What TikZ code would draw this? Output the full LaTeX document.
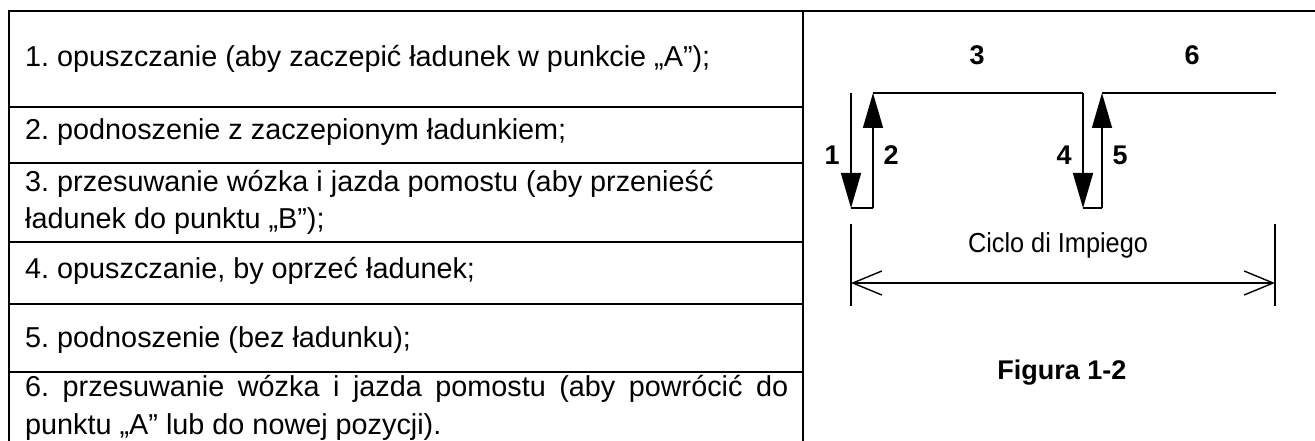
\documentclass[tikz,border=0pt]{standalone}
\usepackage{fontspec}
\setmainfont{Liberation Sans}
\newfontfamily\narrowfont[FakeStretch=0.92]{Liberation Sans}
\usetikzlibrary{arrows.meta}
\frenchspacing
\tikzset{
  grid/.style={line width=2pt, line cap=rect},
  rowtext/.style={anchor=base west, inner sep=0pt, font=\frenchspacing\fontsize{28.8}{34}\selectfont},
  thinpath/.style={line width=1.6pt},
  toppath/.style={line width=2.8pt},
  vecarrow/.style={line width=1.6pt, -{Triangle[length=35pt,width=20pt]}},
  steplabel/.style={inner sep=0pt, font=\bfseries\fontsize{27}{30}\selectfont},
  dimline/.style={line width=1.4pt, {Straight Barb[length=29pt,width=24pt,line width=1.4pt]}-{Straight Barb[length=29pt,width=24pt,line width=1.4pt]}},
}
\begin{document}
\begin{tikzpicture}[x=1pt,y=-1pt]
\useasboundingbox (0,0) rectangle (1315,441);
% table grid
\draw[grid] (1315,11) -- (9,11) -- (9,445);
\draw[grid] (803,11) -- (803,445);
\foreach \yy in {107,163,242,304,372} \draw[grid] (9,\yy) -- (803,\yy);
% rows
\node[rowtext] (r1) at (25,67) {1. opuszczanie (aby zaczepić ładunek w punkcie „A”);};
\node[rowtext] (r2) at (25,140) {2. podnoszenie z zaczepionym ładunkiem;};
\node[rowtext] (r3a) at (25,191) {3. przesuwanie wózka i jazda pomostu (aby przenieść};
\node[rowtext] (r3b) at (25,228) {ładunek do punktu „B”);};
\node[rowtext] (r4) at (25,278) {4. opuszczanie, by oprzeć ładunek;};
\node[rowtext] (r5) at (25,347) {5. podnoszenie (bez ładunku);};
\node[rowtext] (r6a) at (25,396) {\makebox[763pt][s]{6. przesuwanie wózka i jazda pomostu (aby powrócić do}};
\node[rowtext] (r6b) at (25,434) {punktu „A” lub do nowej pozycji).};
% figure coordinates
\coordinate (p1t) at (851,93);
\coordinate (p1b) at (851,208);
\coordinate (p2b) at (873,208);
\coordinate (p2t) at (873,93);
\coordinate (p4t) at (1083,93);
\coordinate (p4b) at (1083,208);
\coordinate (p5b) at (1102,208);
\coordinate (p5t) at (1102,93);
\coordinate (p6e) at (1276,93);
\draw[toppath] (p2t) -- (p4t);
\draw[toppath] (p5t) -- (p6e);
\draw[vecarrow] (p1t) -- (p1b);
\draw[thinpath] (p1b) -- (p2b);
\draw[vecarrow] (p2b) -- (p2t);
\draw[vecarrow] (p4t) -- (p4b);
\draw[thinpath] (p4b) -- (p5b);
\draw[vecarrow] (p5b) -- (p5t);
\node[steplabel] (l3) at (977,55) {3};
\node[steplabel] (l6) at (1192,55) {6};
\node[steplabel] (l1) at (832,155) {1};
\node[steplabel] (l2) at (891,155) {2};
\node[steplabel] (l4) at (1064,155) {4};
\node[steplabel] (l5) at (1120,155) {5};
% dimension
\coordinate (d1t) at (851,224);
\coordinate (d1b) at (851,306);
\coordinate (d2t) at (1275,224);
\coordinate (d2b) at (1275,306);
\coordinate (dl) at (851,283);
\coordinate (dr) at (1275,283);
\draw[thinpath] (d1t) -- (d1b);
\draw[thinpath] (d2t) -- (d2b);
\draw[dimline] (dl) -- (dr);
\node[inner sep=0pt, font=\narrowfont\fontsize{27.5}{30}\selectfont] (cyc) at (1058,245) {Ciclo di Impiego};
\node[inner sep=0pt, font=\bfseries\fontsize{27}{30}\selectfont] (fig) at (1062,373) {Figura 1-2};
\end{tikzpicture}
\end{document}
